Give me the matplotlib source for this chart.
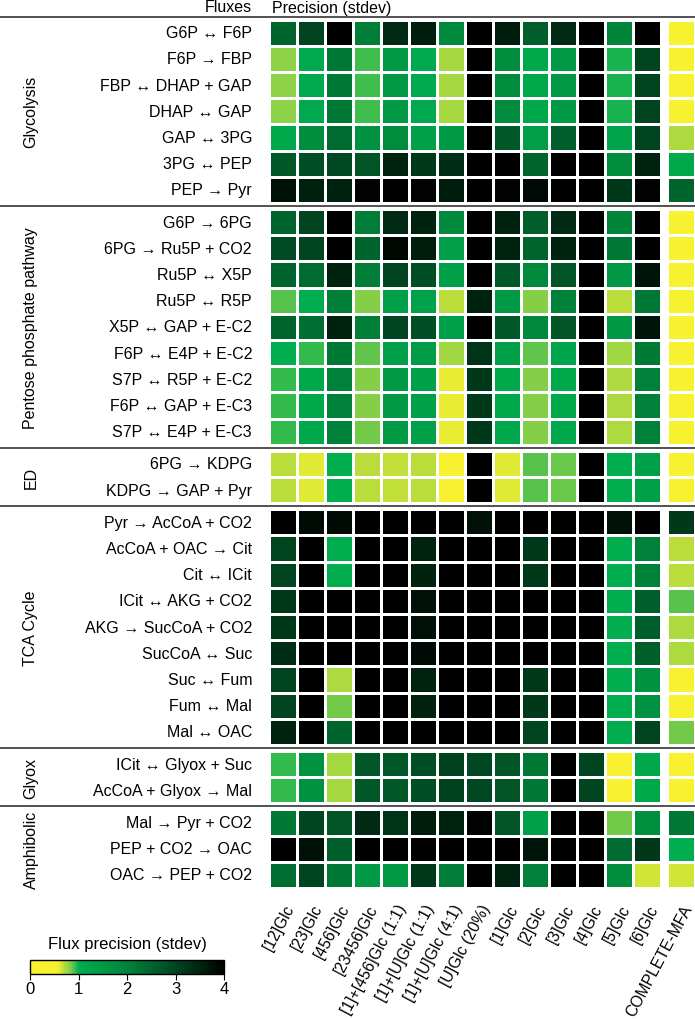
import numpy as np
import matplotlib
matplotlib.use("Agg")
import matplotlib.pyplot as plt
from matplotlib.colors import LinearSegmentedColormap
import matplotlib.transforms as mtrans

plt.rcParams['font.family'] = ['Liberation Sans', 'DejaVu Sans']

# ---------------- data ----------------
groups = ["Glycolysis", "Pentose phosphate pathway", "ED", "TCA Cycle", "Glyox", "Amphibolic"]

glycolysis_fluxes = ["G6P \u2194 F6P", "F6P \u2192 FBP", "FBP \u2194 DHAP + GAP", "DHAP \u2194 GAP",
                     "GAP \u2194 3PG", "3PG \u2194 PEP", "PEP \u2192 Pyr"]
ppp_fluxes = ["G6P \u2192 6PG", "6PG \u2192 Ru5P + CO2", "Ru5P \u2194 X5P", "Ru5P \u2194 R5P",
              "X5P \u2194 GAP + E-C2", "F6P \u2194 E4P + E-C2", "S7P \u2194 R5P + E-C2",
              "F6P \u2194 GAP + E-C3", "S7P \u2194 E4P + E-C3"]
ed_fluxes = ["6PG \u2192 KDPG", "KDPG \u2192 GAP + Pyr"]
tca_fluxes = ["Pyr \u2192 AcCoA + CO2", "AcCoA + OAC \u2192 Cit", "Cit \u2194 ICit", "ICit \u2194 AKG + CO2",
              "AKG \u2192 SucCoA + CO2", "SucCoA \u2194 Suc", "Suc \u2194 Fum", "Fum \u2194 Mal", "Mal \u2194 OAC"]
glyox_fluxes = ["ICit \u2194 Glyox + Suc", "AcCoA + Glyox \u2192 Mal"]
amph_fluxes = ["Mal \u2192 Pyr + CO2", "PEP + CO2 \u2192 OAC", "OAC \u2192 PEP + CO2"]

tracers = ["[12]Glc", "[23]Glc", "[456]Glc", "[23456]Glc", "[1]+[456]Glc (1:1)", "[1]+[U]Glc (1:1)",
           "[1]+[U]Glc (4:1)", "[U]Glc (20%)", "[1]Glc", "[2]Glc", "[3]Glc", "[4]Glc", "[5]Glc", "[6]Glc"]
complete_label = "COMPLETE-MFA"

glycolysis_vals = [
    [2.5, 3.0, 4.0, 2.1, 3.4, 3.6, 1.9, 4.0, 3.6, 2.6, 3.4, 4.0, 2.0, 4.0],
    [0.8, 1.12, 2.2, 0.93, 1.5, 1.12, 0.74, 4.0, 1.85, 1.15, 1.52, 4.0, 0.98, 3.0],
    [0.8, 1.12, 2.2, 0.93, 1.5, 1.12, 0.74, 4.0, 1.85, 1.15, 1.52, 4.0, 0.98, 3.0],
    [0.8, 1.12, 2.2, 0.93, 1.5, 1.12, 0.74, 4.0, 1.85, 1.15, 1.52, 4.0, 0.98, 3.0],
    [1.15, 1.8, 2.4, 1.7, 1.85, 1.35, 1.5, 4.0, 2.7, 1.4, 2.6, 4.0, 1.25, 3.0],
    [2.7, 2.85, 2.95, 2.75, 3.5, 3.2, 3.35, 4.0, 4.0, 2.5, 4.0, 4.0, 1.85, 3.5],
    [3.75, 3.55, 3.5, 3.95, 4.0, 3.95, 3.6, 4.0, 3.95, 3.85, 4.0, 4.0, 3.2, 3.95],
]
ppp_vals = [
    [2.5, 3.0, 4.0, 2.1, 3.4, 3.5, 1.9, 4.0, 3.5, 2.6, 3.4, 4.0, 2.0, 4.0],
    [2.9, 3.0, 4.0, 2.5, 3.9, 3.6, 1.4, 4.0, 3.5, 2.5, 3.5, 4.0, 2.2, 4.0],
    [2.5, 2.4, 3.5, 2.1, 3.0, 2.85, 1.35, 4.0, 2.7, 1.9, 2.75, 4.0, 1.55, 3.7],
    [0.9, 1.0, 2.1, 0.82, 1.35, 1.3, 0.7, 3.5, 1.5, 0.82, 2.05, 4.0, 0.7, 2.2],
    [2.5, 2.35, 3.5, 2.1, 3.0, 2.85, 1.35, 4.0, 2.7, 1.9, 2.75, 4.0, 1.55, 3.7],
    [1.0, 0.95, 2.2, 0.88, 1.35, 1.45, 0.76, 3.25, 1.35, 0.88, 1.2, 4.0, 0.76, 2.15],
    [0.95, 1.15, 2.05, 0.82, 1.5, 1.35, 0.6, 3.2, 1.15, 0.82, 1.15, 4.0, 0.72, 2.05],
    [0.95, 1.15, 2.05, 0.82, 1.5, 1.35, 0.6, 3.2, 1.15, 0.82, 1.15, 4.0, 0.72, 2.05],
    [0.95, 1.15, 2.05, 0.85, 1.5, 1.35, 0.6, 3.2, 1.15, 0.82, 1.15, 4.0, 0.72, 2.05],
]
ed_vals = [
    [0.7, 0.62, 1.0, 0.7, 0.68, 0.7, 0.3, 4.0, 0.62, 0.9, 0.87, 4.0, 1.0, 1.35],
    [0.7, 0.62, 1.0, 0.7, 0.68, 0.7, 0.3, 4.0, 0.62, 0.9, 0.87, 4.0, 1.0, 1.35],
]
tca_vals = [
    [4.0, 3.85, 3.85, 4.0, 4.0, 4.0, 4.0, 3.75, 4.0, 4.0, 4.0, 4.0, 3.75, 4.0],
    [3.0, 4.0, 1.05, 4.0, 4.0, 3.5, 4.0, 4.0, 4.0, 3.2, 4.0, 4.0, 1.05, 2.05],
    [3.0, 4.0, 1.05, 4.0, 4.0, 3.5, 4.0, 4.0, 4.0, 3.2, 4.0, 4.0, 1.05, 2.05],
    [3.2, 4.0, 4.0, 4.0, 4.0, 3.75, 4.0, 4.0, 4.0, 4.0, 4.0, 4.0, 1.05, 2.6],
    [3.2, 4.0, 4.0, 4.0, 4.0, 3.75, 4.0, 4.0, 4.0, 4.0, 4.0, 4.0, 1.0, 2.6],
    [3.35, 4.0, 4.0, 4.0, 4.0, 3.85, 4.0, 4.0, 4.0, 4.0, 4.0, 4.0, 1.0, 2.6],
    [3.0, 4.0, 0.72, 4.0, 4.0, 3.5, 4.0, 4.0, 4.0, 3.2, 4.0, 4.0, 1.0, 1.7],
    [3.0, 4.0, 0.85, 4.0, 4.0, 3.5, 4.0, 4.0, 4.0, 3.2, 4.0, 4.0, 1.0, 1.7],
    [3.5, 4.0, 2.5, 4.0, 4.0, 4.0, 4.0, 4.0, 4.0, 3.0, 4.0, 4.0, 1.05, 3.0],
]
glyox_vals = [
    [0.95, 1.7, 0.74, 2.7, 2.7, 2.85, 3.05, 2.95, 2.75, 2.2, 4.0, 3.0, 0.3, 1.15],
    [0.95, 1.7, 0.74, 2.7, 2.7, 2.85, 3.05, 2.95, 2.75, 2.2, 4.0, 3.0, 0.3, 1.15],
]
amph_vals = [
    [2.2, 3.0, 2.75, 3.4, 3.25, 3.6, 3.5, 3.95, 2.75, 1.35, 4.0, 4.0, 0.85, 1.75],
    [4.0, 3.75, 2.6, 4.0, 4.0, 4.0, 4.0, 4.0, 4.0, 3.7, 4.0, 4.0, 2.4, 3.2],
    [2.35, 3.0, 2.2, 1.5, 1.5, 3.2, 2.1, 4.0, 3.5, 2.05, 4.0, 4.0, 1.85, 0.65],
]
glycolysis_complete = [0.4, 0.2, 0.2, 0.2, 0.72, 1.15, 2.5]
ppp_complete = [0.3, 0.25, 0.25, 0.2, 0.25, 0.2, 0.2, 0.2, 0.2]
ed_complete = [0.2, 0.2]
tca_complete = [3.2, 0.7, 0.7, 0.9, 0.72, 0.72, 0.3, 0.3, 0.85]
glyox_complete = [0.3, 0.3]
amph_complete = [2.2, 1.0, 0.65]

group_fluxes = [glycolysis_fluxes, ppp_fluxes, ed_fluxes, tca_fluxes, glyox_fluxes, amph_fluxes]
group_vals = [glycolysis_vals, ppp_vals, ed_vals, tca_vals, glyox_vals, amph_vals]
group_complete = [glycolysis_complete, ppp_complete, ed_complete, tca_complete, glyox_complete, amph_complete]

# ---------------- colormap ----------------
cmap = LinearSegmentedColormap.from_list("prec", [
    (0.0, '#F8F230'), (0.14, '#F6F130'), (0.155, '#DDE834'), (0.175, '#B5DC3C'),
    (0.2, '#8ED247'), (0.225, '#55C24C'), (0.25, '#00AE4F'), (0.375, '#009A45'),
    (0.5, '#00843A'), (0.625, '#00652D'), (0.75, '#004520'), (0.875, '#002410'),
    (1.0, '#000000')])
vmin, vmax = 0, 4

# ---------------- layout ----------------
W, H = 695, 1020
fig = plt.figure(figsize=(W / 100, H / 100), dpi=100)

G = 0.23     # gap between groups (row units)
GX = 0.215   # gap before COMPLETE-MFA column
ncols = len(tracers)
total_rows = sum(len(f) for f in group_fluxes)
ytot = total_rows + G * (len(groups) - 1)
xtot = ncols + GX + 1

ax_left, ax_top, ax_bottom = 268.65, 20.65, 888.95
ax_w = xtot * 28.0
ax = fig.add_axes([ax_left / W, 1 - ax_bottom / H, ax_w / W, (ax_bottom - ax_top) / H])
ax.set_xlim(0, xtot)
ax.set_ylim(ytot, 0)
ax.axis('off')

fig_y = mtrans.blended_transform_factory(fig.transFigure, ax.transData)
x_fig = mtrans.blended_transform_factory(ax.transData, fig.transFigure)

start = 0
mesh = None
sep_color = '#333333'
for k, (name, fl, vals, comp) in enumerate(zip(groups, group_fluxes, group_vals, group_complete)):
    n = len(fl)
    y0 = start + k * G
    yedges = y0 + np.arange(n + 1)
    mesh = ax.pcolormesh(np.arange(ncols + 1), yedges, np.array(vals), cmap=cmap, vmin=vmin, vmax=vmax,
                         edgecolors='white', linewidth=1.0)
    ax.pcolormesh(np.array([ncols + GX, ncols + GX + 1]), yedges, np.array(comp).reshape(-1, 1),
                  cmap=cmap, vmin=vmin, vmax=vmax, edgecolors='white', linewidth=1.0)
    for i, f in enumerate(fl):
        ax.text(252 / W, y0 + i + 0.5, f, transform=fig_y, ha='right', va='center', fontsize=11.5)
    ax.text(31 / W, y0 + n / 2, name, transform=fig_y, ha='center', va='center', rotation=90, fontsize=11.5)
    if k > 0:
        ys = y0 - G / 2
        ax.plot([0, 1], [ys, ys], transform=fig_y, color=sep_color, lw=1.2, clip_on=False)
    start += n

# header line and texts
fig.add_artist(plt.Line2D([0, 1], [1 - 18 / H, 1 - 18 / H], transform=fig.transFigure, color=sep_color, lw=1.2))
fig.text(252 / W, 1 - 8 / H, "Fluxes", ha='right', va='center', fontsize=11.5)
fig.text(272 / W, 1 - 8 / H, "Precision (stdev)", ha='left', va='center', fontsize=11.5)

# column labels
xcenters = list(np.arange(ncols) + 0.5) + [ncols + GX + 0.5]
labels = tracers + [complete_label]
for xc, lab in zip(xcenters, labels):
    ax.text(xc + 0.27, 1 - 906 / H, lab, transform=x_fig, ha='right', va='center', rotation=62,
            rotation_mode='anchor', fontsize=11.3)

# colorbar
cax = fig.add_axes([30 / W, 1 - 975 / H, 194 / W, 14 / H])
cb = fig.colorbar(mesh, cax=cax, orientation='horizontal', ticks=[0, 1, 2, 3, 4])
cb.outline.set_linewidth(1.0)
cax.tick_params(labelsize=12, length=4, width=0.8, pad=1)
fig.text(127 / W, 1 - 945 / H, "Flux precision (stdev)", ha='center', va='center', fontsize=12)

fig.savefig("out.png", dpi=100)
